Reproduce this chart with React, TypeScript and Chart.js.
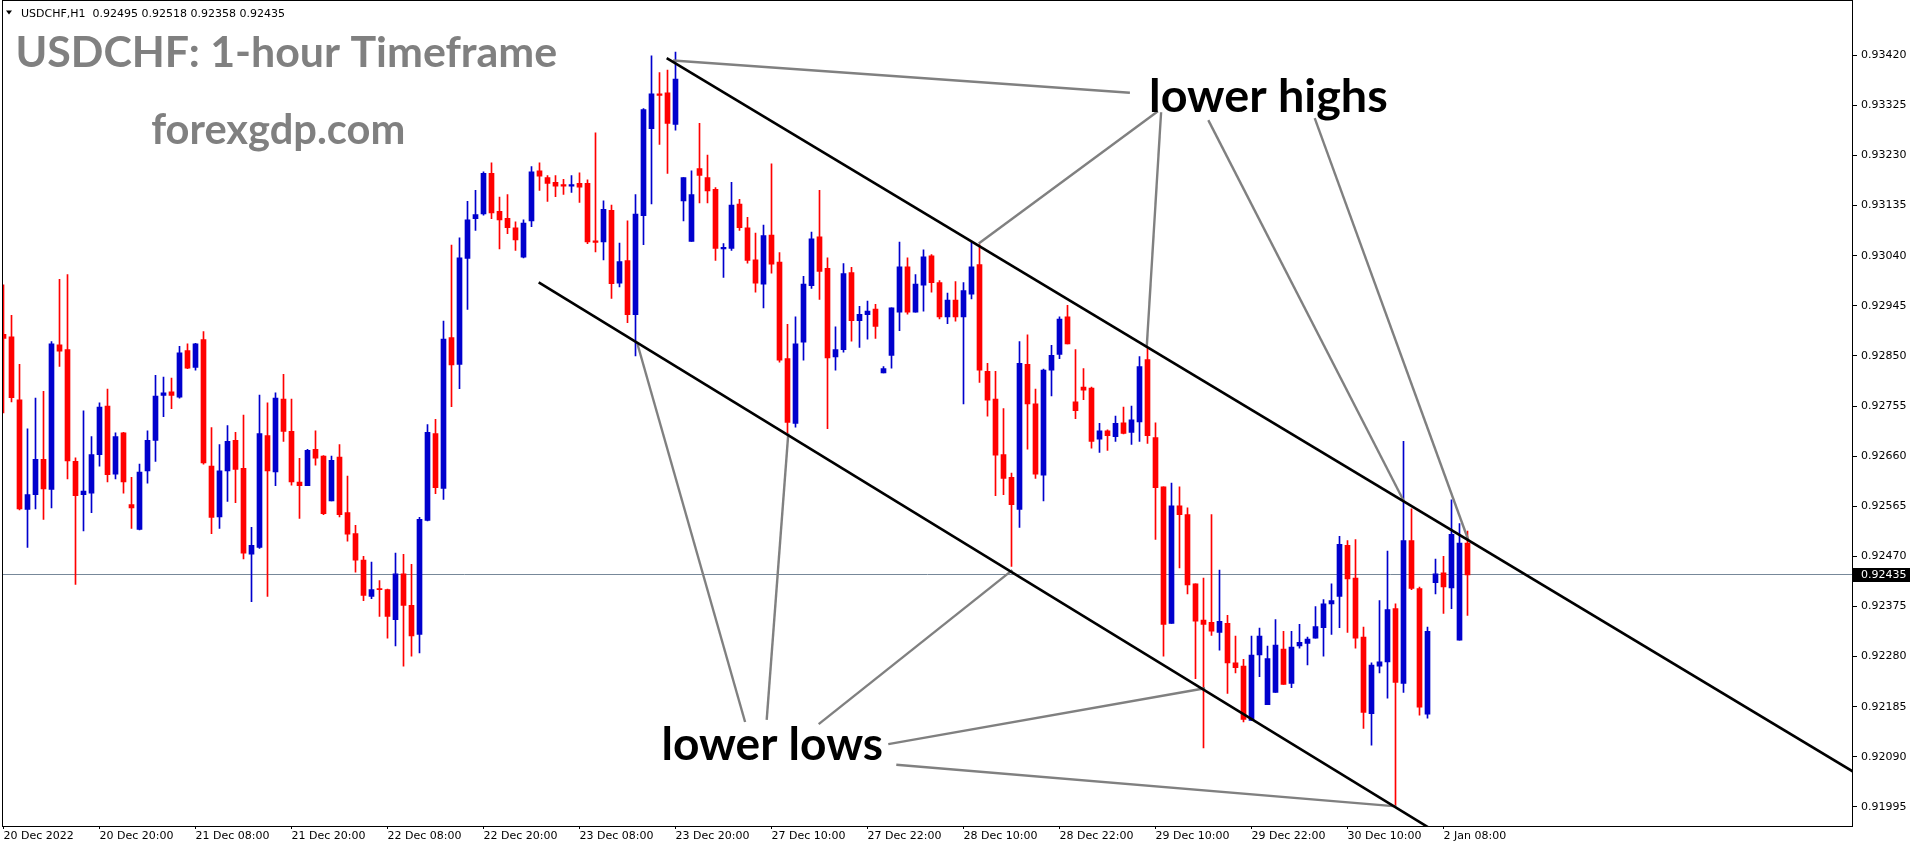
import React, { useEffect, useRef } from "react";
import { Chart, registerables } from "chart.js";
Chart.register(...registerables);

// ---- candle data (USDCHF H1), bar index 0..183 ----
const opens = [
  0.92891,0.92886,0.92767,0.92559,0.92587,0.92654,0.92597,0.92871,0.92862,0.92650,
  0.92587,0.92590,0.92663,0.92755,0.92626,0.92704,0.92568,0.92521,0.92632,0.92690,
  0.92775,0.92782,0.92772,0.92860,0.92828,0.92881,0.92641,0.92545,0.92632,0.92690,
  0.92637,0.92474,0.92487,0.92699,0.92630,0.92768,0.92707,0.92611,0.92604,0.92673,
  0.92660,0.92575,0.92658,0.92553,0.92513,0.92463,0.92394,0.92409,0.92407,0.92350,
  0.92437,0.92377,0.92322,0.92538,0.92703,0.92599,0.92885,0.92834,0.93035,0.93110,
  0.93119,0.93196,0.93124,0.93111,0.93093,0.93037,0.93106,0.93201,0.93188,0.93179,
  0.93175,0.93172,0.93177,0.93177,0.93068,0.93066,0.93126,0.92988,0.93031,0.92928,
  0.93116,0.93281,0.93347,0.93349,0.93289,0.93144,0.93067,0.93205,0.93188,0.93166,
  0.93053,0.93054,0.93138,0.93093,0.93032,0.92986,0.93079,0.93028,0.92845,0.92722,
  0.92876,0.92983,0.93076,0.93016,0.92848,0.92862,0.93008,0.92917,0.92928,0.92939,
  0.92818,0.92851,0.92933,0.93019,0.92933,0.92984,0.93040,0.92989,0.92924,0.92956,
  0.92924,0.92967,0.93023,0.92821,0.92768,0.92663,0.92620,0.92559,0.92834,0.92759,
  0.92624,0.92823,0.92853,0.92924,0.92763,0.92791,0.92789,0.92692,0.92708,0.92697,
  0.92723,0.92705,0.92725,0.92843,0.92695,0.92602,0.92343,0.92566,0.92549,0.92418,
  0.92349,0.92345,0.92326,0.92343,0.92268,0.92262,0.92159,0.92283,0.92189,0.92212,
  0.92294,0.92229,0.92300,0.92305,0.92315,0.92335,0.92380,0.92394,0.92491,0.92429,
  0.92317,0.92172,0.92262,0.92270,0.92371,0.92229,0.92500,0.92409,0.92171,0.92420,
  0.92439,0.92410,0.92311,0.92495,
];
const highs = [
  0.92985,0.92927,0.92834,0.92712,0.92770,0.92783,0.92877,0.92995,0.93004,0.92657,
  0.92746,0.92697,0.92761,0.92787,0.92704,0.92705,0.92620,0.92645,0.92708,0.92813,
  0.92810,0.92808,0.92868,0.92873,0.92874,0.92896,0.92714,0.92682,0.92718,0.92705,
  0.92738,0.92525,0.92776,0.92761,0.92780,0.92815,0.92768,0.92656,0.92673,0.92708,
  0.92661,0.92660,0.92682,0.92622,0.92529,0.92470,0.92459,0.92424,0.92408,0.92476,
  0.92474,0.92455,0.92544,0.92720,0.92730,0.92916,0.93060,0.93074,0.93143,0.93164,
  0.93199,0.93216,0.93151,0.93156,0.93104,0.93108,0.93209,0.93216,0.93192,0.93192,
  0.93185,0.93192,0.93197,0.93184,0.93273,0.93144,0.93136,0.93064,0.93106,0.93156,
  0.93319,0.93419,0.93387,0.93392,0.93426,0.93188,0.93201,0.93291,0.93231,0.93169,
  0.93063,0.93179,0.93147,0.93113,0.93083,0.93098,0.93214,0.93046,0.92910,0.92924,
  0.93001,0.93085,0.93164,0.93036,0.92905,0.93025,0.93018,0.92944,0.92954,0.92948,
  0.92830,0.92941,0.93066,0.93036,0.93004,0.93051,0.93042,0.92993,0.92969,0.92991,
  0.92989,0.93066,0.93061,0.92836,0.92821,0.92750,0.92628,0.92877,0.92890,0.92787,
  0.92825,0.92870,0.92924,0.92946,0.92862,0.92826,0.92791,0.92722,0.92710,0.92736,
  0.92753,0.92755,0.92849,0.92866,0.92723,0.92602,0.92609,0.92602,0.92562,0.92418,
  0.92429,0.92549,0.92444,0.92358,0.92319,0.92275,0.92319,0.92334,0.92300,0.92350,
  0.92328,0.92328,0.92341,0.92317,0.92375,0.92388,0.92418,0.92508,0.92500,0.92502,
  0.92336,0.92268,0.92386,0.92480,0.92380,0.92688,0.92560,0.92412,0.92336,0.92465,
  0.92470,0.92577,0.92532,0.92518,
];
const lows = [
  0.92742,0.92763,0.92558,0.92487,0.92560,0.92540,0.92562,0.92830,0.92617,0.92417,
  0.92518,0.92553,0.92641,0.92611,0.92617,0.92590,0.92523,0.92520,0.92609,0.92650,
  0.92735,0.92750,0.92770,0.92826,0.92823,0.92645,0.92513,0.92523,0.92574,0.92572,
  0.92465,0.92384,0.92485,0.92394,0.92604,0.92688,0.92605,0.92542,0.92604,0.92643,
  0.92549,0.92575,0.92545,0.92499,0.92440,0.92386,0.92390,0.92356,0.92315,0.92300,
  0.92262,0.92281,0.92287,0.92537,0.92589,0.92578,0.92754,0.92788,0.92938,0.93088,
  0.93117,0.93110,0.93053,0.93082,0.93050,0.93036,0.93095,0.93164,0.93143,0.93152,
  0.93156,0.93160,0.93141,0.93063,0.93047,0.93032,0.92959,0.92981,0.92913,0.92850,
  0.93061,0.93138,0.93251,0.93196,0.93278,0.93106,0.93067,0.93140,0.93140,0.93031,
  0.92999,0.93050,0.93088,0.93026,0.92971,0.92941,0.93007,0.92838,0.92704,0.92715,
  0.92842,0.92978,0.92957,0.92712,0.92823,0.92857,0.92878,0.92866,0.92882,0.92883,
  0.92818,0.92827,0.92898,0.92929,0.92933,0.92935,0.92971,0.92920,0.92911,0.92916,
  0.92759,0.92958,0.92800,0.92736,0.92585,0.92587,0.92451,0.92525,0.92673,0.92618,
  0.92575,0.92774,0.92845,0.92873,0.92731,0.92767,0.92675,0.92667,0.92671,0.92688,
  0.92702,0.92682,0.92688,0.92684,0.92502,0.92281,0.92343,0.92448,0.92399,0.92238,
  0.92107,0.92320,0.92292,0.92210,0.92249,0.92156,0.92159,0.92242,0.92189,0.92212,
  0.92227,0.92221,0.92296,0.92264,0.92315,0.92281,0.92322,0.92335,0.92326,0.92296,
  0.92144,0.92112,0.92249,0.92201,0.91998,0.92212,0.92407,0.92169,0.92163,0.92399,
  0.92362,0.92371,0.92311,0.92358,
];
const closes = [
  0.92883,0.92771,0.92560,0.92587,0.92654,0.92598,0.92873,0.92859,0.92651,0.92585,
  0.92594,0.92663,0.92753,0.92625,0.92697,0.92611,0.92562,0.92630,0.92690,0.92774,
  0.92780,0.92775,0.92856,0.92827,0.92873,0.92647,0.92544,0.92632,0.92688,0.92635,
  0.92476,0.92491,0.92703,0.92632,0.92770,0.92707,0.92611,0.92604,0.92671,0.92656,
  0.92551,0.92652,0.92549,0.92512,0.92463,0.92396,0.92407,0.92407,0.92356,0.92437,
  0.92377,0.92319,0.92540,0.92705,0.92600,0.92882,0.92833,0.93036,0.93108,0.93118,
  0.93196,0.93121,0.93108,0.93093,0.93070,0.93102,0.93199,0.93191,0.93177,0.93172,
  0.93172,0.93175,0.93170,0.93066,0.93065,0.93128,0.92987,0.93029,0.92928,0.93119,
  0.93317,0.93347,0.93344,0.93291,0.93375,0.93188,0.93156,0.93192,0.93163,0.93054,
  0.93056,0.93136,0.93093,0.93031,0.92988,0.93078,0.93024,0.92842,0.92724,0.92873,
  0.92986,0.93072,0.93010,0.92846,0.92862,0.93006,0.92917,0.92929,0.92935,0.92906,
  0.92826,0.92941,0.93019,0.92933,0.92986,0.93038,0.92989,0.92924,0.92956,0.92924,
  0.92974,0.93019,0.92823,0.92766,0.92662,0.92618,0.92568,0.92836,0.92759,0.92626,
  0.92823,0.92851,0.92920,0.92873,0.92746,0.92785,0.92688,0.92708,0.92699,0.92722,
  0.92703,0.92729,0.92830,0.92699,0.92600,0.92341,0.92566,0.92549,0.92416,0.92347,
  0.92341,0.92328,0.92347,0.92268,0.92259,0.92161,0.92283,0.92319,0.92276,0.92302,
  0.92227,0.92298,0.92307,0.92313,0.92337,0.92380,0.92386,0.92493,0.92427,0.92315,
  0.92174,0.92264,0.92270,0.92369,0.92231,0.92500,0.92409,0.92184,0.92328,0.92437,
  0.92412,0.92512,0.92495,0.92435,
];

// ---- axes ----
const xTickLabels = [
  "20 Dec 2022", "20 Dec 20:00", "21 Dec 08:00", "21 Dec 20:00", "22 Dec 08:00",
  "22 Dec 20:00", "23 Dec 08:00", "23 Dec 20:00", "27 Dec 10:00", "27 Dec 22:00",
  "28 Dec 10:00", "28 Dec 22:00", "29 Dec 10:00", "29 Dec 22:00", "30 Dec 10:00",
  "2 Jan 08:00",
];
const xTickBars = [0, 12, 24, 36, 48, 60, 72, 84, 96, 108, 120, 132, 144, 156, 168, 180];
const yTickLabels = [
  "0.93420", "0.93325", "0.93230", "0.93135", "0.93040", "0.92945", "0.92850", "0.92755",
  "0.92660", "0.92565", "0.92470", "0.92375", "0.92280", "0.92185", "0.92090", "0.91995",
];
const X_MIN = -0.1875;
const X_MAX = 231.1875;
const Y_MIN = 0.919588;
const Y_MAX = 0.935047;
const currentPrice = 0.92435;
const headerText = "USDCHF,H1  0.92495 0.92518 0.92358 0.92435";
const titleText = "USDCHF: 1-hour Timeframe";
const siteText = "forexgdp.com";

// ---- drawn objects, in (bar index, price) ----
const upperChannel = [[82.9, 0.934148], [231.19, 0.920619]];
const lowerChannel = [[66.9, 0.929894], [180.0, 0.919386]];
const highArrows = [
  [83.7, 0.93410, 140.8, 0.93349],
  [121.9, 0.93063, 144.3, 0.93314],
  [142.9, 0.92866, 144.7, 0.93312],
  [175.0, 0.92576, 150.6, 0.93297],
  [183.1, 0.92501, 163.9, 0.93301],
];
const lowArrows = [
  [79.2, 0.92875, 92.7, 0.92156],
  [98.1, 0.92703, 95.4, 0.92160],
  [126.1, 0.92444, 101.9, 0.92152],
  [150.2, 0.92220, 110.6, 0.92114],
  [174.1, 0.91996, 111.6, 0.92075],
];
const labelHighs = { text: "lower highs", bar: 143.44, price: 0.933117, width: 234.6 };
const labelLows = { text: "lower lows", bar: 82.5, price: 0.920844, width: 217.5 };

const BULL = "#0000CD";
const BEAR = "#FF0000";
const AXIS_FONT = "DejaVu Sans";

function drawFitted(ctx: CanvasRenderingContext2D, text: string, left: number, baseline: number, width: number, weight: string, family: string) {
  ctx.font = `${weight} 100px ${family}`;
  const m = ctx.measureText(text);
  const ink = m.actualBoundingBoxRight + m.actualBoundingBoxLeft;
  const size = (100 * width) / ink;
  ctx.font = `${weight} ${size}px ${family}`;
  const m2 = ctx.measureText(text);
  ctx.textAlign = "left";
  ctx.textBaseline = "alphabetic";
  ctx.fillText(text, left + m2.actualBoundingBoxLeft, baseline);
}

const overlayPlugin = {
  id: "overlay",
  beforeDatasetsDraw(chart: any) {
    const { ctx, chartArea, scales } = chart;
    const py = Math.round(scales.y.getPixelForValue(currentPrice) - 0.5) + 0.5;
    ctx.save();
    ctx.strokeStyle = "#778899";
    ctx.lineWidth = 1;
    ctx.beginPath();
    ctx.moveTo(chartArea.left, py);
    ctx.lineTo(chartArea.right, py);
    ctx.stroke();
    ctx.restore();
  },
  afterDatasetsDraw(chart: any) {
    const { ctx, scales } = chart;
    ctx.save();
    ctx.fillStyle = "#000";
    for (const l of [labelHighs, labelLows]) {
      drawFitted(ctx, l.text, scales.x.getPixelForValue(l.bar), scales.y.getPixelForValue(l.price), l.width, "bold", "Lato");
    }
    ctx.restore();
  },
  afterDraw(chart: any) {
    const { ctx, chartArea, scales } = chart;
    ctx.save();
    // frame
    ctx.fillStyle = "#000";
    const L = Math.round(chartArea.left), R = Math.round(chartArea.right) - 1, B = Math.round(chartArea.bottom);
    ctx.fillRect(L, 0, 1, B + 1);
    ctx.fillRect(R, 0, 1, B + 1);
    ctx.fillRect(L, B, R - L + 1, 1);
    ctx.fillRect(L, 0, R - L + 1, 1);
    // current price tag
    const py = Math.round(scales.y.getPixelForValue(currentPrice));
    ctx.fillRect(R + 1, py - 7, 57, 14);
    ctx.fillStyle = "#fff";
    ctx.font = `11px ${AXIS_FONT}`;
    ctx.textAlign = "left";
    ctx.textBaseline = "middle";
    ctx.fillText(currentPrice.toFixed(5), R + 9, py);
    // header
    ctx.fillStyle = "#000";
    ctx.beginPath();
    ctx.moveTo(6, 10.5);
    ctx.lineTo(12, 10.5);
    ctx.lineTo(9, 14.5);
    ctx.closePath();
    ctx.fill();
    ctx.font = `11px ${AXIS_FONT}`;
    ctx.textBaseline = "alphabetic";
    ctx.fillText(headerText, 21, 17);
    // titles
    ctx.fillStyle = "#808080";
    drawFitted(ctx, titleText, 18.4, 66.7, 538, "bold", "Lato");
    drawFitted(ctx, siteText, 151.2, 144, 251.4, "bold", "Lato");
    ctx.restore();
  },
};

export default function App() {
  const ref = useRef<HTMLCanvasElement>(null);
  useEffect(() => {
    document.body.style.margin = "0";
    const canvas = ref.current!;
    const idx = opens.map((_, i) => i);
    const colors = idx.map((i) => (closes[i] >= opens[i] ? BULL : BEAR));
    const lineDs = (pts: number[][], color: string, w: number) => ({
      type: "line" as const,
      data: pts.map((p) => ({ x: p[0], y: p[1] })),
      borderColor: color,
      borderWidth: w,
      pointRadius: 0,
      fill: false,
      order: 1,
    });
    const datasets: any[] = [
      {
        type: "bar",
        data: idx.map((i) => ({ x: i, y: [lows[i], highs[i]] })),
        backgroundColor: colors,
        barThickness: 1,
        grouped: false,
        order: 5,
      },
      {
        type: "bar",
        data: idx.map((i) => ({ x: i, y: [opens[i], closes[i]] })),
        backgroundColor: colors,
        barThickness: 5,
        minBarLength: 1,
        grouped: false,
        order: 4,
      },
      lineDs(upperChannel, "#000", 2.6),
      lineDs(lowerChannel, "#000", 2.6),
      ...highArrows.map((a) => lineDs([[a[0], a[1]], [a[2], a[3]]], "#808080", 2.4)),
      ...lowArrows.map((a) => lineDs([[a[0], a[1]], [a[2], a[3]]], "#808080", 2.4)),
    ];
    const chart = new Chart(canvas, {
      type: "bar",
      data: { datasets },
      plugins: [overlayPlugin],
      options: {
        responsive: false,
        animation: false,
        devicePixelRatio: 1,
        events: [],
        layout: { padding: { left: 2, top: 1, right: 0, bottom: 0 } },
        plugins: { legend: { display: false }, tooltip: { enabled: false } },
        scales: {
          x: {
            type: "linear",
            min: X_MIN,
            max: X_MAX,
            bounds: "data",
            offset: false,
            grid: { drawOnChartArea: false, drawTicks: true, tickLength: 3, color: "#000", offset: false },
            border: { display: false },
            ticks: {
              autoSkip: false,
              maxRotation: 0,
              minRotation: 0,
              align: "start",
              padding: 1,
              color: "#000",
              font: { family: AXIS_FONT, size: 11 },
              callback: (_v: any, i: number) => xTickLabels[i],
            },
            afterBuildTicks: (s: any) => {
              s.ticks = xTickBars.map((v) => ({ value: v }));
            },
            afterFit: (s: any) => {
              s.height = 24;
            },
          },
          y: {
            type: "linear",
            position: "right",
            min: Y_MIN,
            max: Y_MAX,
            bounds: "data",
            beginAtZero: false,
            grid: { drawOnChartArea: false, drawTicks: true, tickLength: 4, color: "#000" },
            border: { display: false },
            ticks: {
              autoSkip: false,
              padding: 4,
              color: "#000",
              font: { family: AXIS_FONT, size: 11 },
              callback: (_v: any, i: number) => yTickLabels[i],
            },
            afterBuildTicks: (s: any) => {
              s.ticks = yTickLabels.map((t) => ({ value: parseFloat(t) }));
            },
            afterFit: (s: any) => {
              s.width = 63;
            },
          },
        },
      } as any,
    });
    return () => chart.destroy();
  }, []);
  return <canvas ref={ref} width={1916} height={850} style={{ display: "block", width: 1916, height: 850 }} />;
}
